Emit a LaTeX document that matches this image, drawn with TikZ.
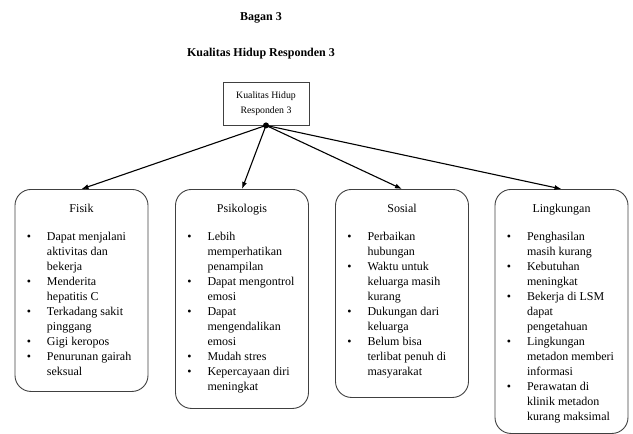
\documentclass[tikz,border=0pt]{standalone}
\usepackage{fontspec}
\setmainfont{Liberation Serif}
\usetikzlibrary{arrows.meta,positioning}

\newcommand{\isikotak}[3]{%
  \parbox[c][#1][t]{133pt}{\fontsize{12}{15}\selectfont
    \vspace*{12.5pt}{\centering\strut #2\par}\vspace{13pt}%
    \raggedright
    \begin{list}{\textbullet}{\setlength{\leftmargin}{32pt}\setlength{\labelsep}{16pt}%
      \setlength{\labelwidth}{16pt}\setlength{\itemsep}{0pt}\setlength{\topsep}{0pt}%
      \setlength{\parsep}{0pt}\setlength{\partopsep}{0pt}}
    #3
    \end{list}}}

\begin{document}
\begin{tikzpicture}[x=1pt,y=-1pt,
    judulteks/.style={font=\bfseries\fontsize{12}{14}\selectfont},
    kotak/.style={draw=black!75, line width=0.9pt, rounded corners=16pt, inner sep=0pt, anchor=north},
    panah/.style={-{Latex[length=7pt,width=5pt]}, line width=1.1pt}]
    \useasboundingbox (0,0) rectangle (633,434);

    \node[judulteks] (bagan) at (261,18) {Bagan 3};
    \node[judulteks] (judul) at (261,54) {Kualitas Hidup Responden 3};

    \node[draw=black!75, line width=0.8pt, minimum width=86pt, minimum height=43pt, inner sep=0pt,
      align=center, font=\fontsize{9.8}{15}\selectfont] (akar) at (266,103.5) {Kualitas Hidup\\Responden 3};
    \node[circle, fill, inner sep=0pt, minimum size=6pt] (titik) at (akar.south) {};

    \node[kotak] (fisik) at (81.5,189) {\isikotak{202pt}{Fisik}{%
      \item Dapat menjalani\newline aktivitas dan\newline bekerja
      \item Menderita\newline hepatitis C
      \item Terkadang sakit\newline pinggang
      \item Gigi keropos
      \item Penurunan gairah\newline seksual}};
    \node[kotak] (psikologis) at (242,189) {\isikotak{219pt}{Psikologis}{%
      \item Lebih\newline memperhatikan\newline penampilan
      \item Dapat mengontrol\newline emosi
      \item Dapat\newline mengendalikan\newline emosi
      \item Mudah stres
      \item Kepercayaan diri\newline meningkat}};
    \node[kotak] (sosial) at (402,189) {\isikotak{208pt}{Sosial}{%
      \item Perbaikan\newline hubungan
      \item Waktu untuk\newline keluarga masih\newline kurang
      \item Dukungan dari\newline keluarga
      \item Belum bisa\newline terlibat penuh di\newline masyarakat}};
    \node[kotak] (lingkungan) at (561.5,189) {\isikotak{244pt}{Lingkungan}{%
      \item Penghasilan\newline masih kurang
      \item Kebutuhan\newline meningkat
      \item Bekerja di LSM\newline dapat\newline pengetahuan
      \item Lingkungan\newline metadon memberi\newline informasi
      \item Perawatan di\newline klinik metadon\newline kurang maksimal}};

    \foreach \k in {fisik,psikologis,sosial,lingkungan}
      \draw[panah] (titik.center) -- (\k.north);
\end{tikzpicture}
\end{document}
